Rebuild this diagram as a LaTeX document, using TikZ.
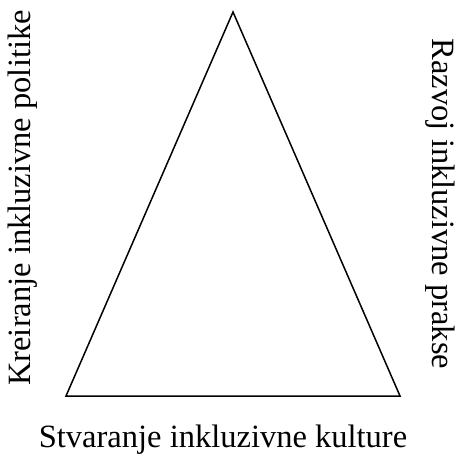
\documentclass[tikz,border=0pt]{standalone}
\usepackage{fontspec}
\setmainfont{Liberation Serif}
\usetikzlibrary{positioning}

\begin{document}
\begin{tikzpicture}[
  x=0.4pt, y=-0.4pt,
  label/.style={font=\fontsize{13}{16}\selectfont, inner sep=0pt},
  edge/.style={draw, line width=0.6pt, line join=miter}
]

\useasboundingbox (0,0) rectangle (456,464);

\coordinate (top) at (233,12);
\coordinate (left) at (66,396);
\coordinate (right) at (400,396);

\draw[edge] (top) -- (left) -- (right) -- cycle;

\node[label, rotate=90] (politike) at (23,198) {Kreiranje inkluzivne politike};
\node[label, rotate=-90] (prakse) at (440,204) {Razvoj inkluzivne prakse};
\node[label] (kulture) at (223,440) {Stvaranje inkluzivne kulture};

\end{tikzpicture}
\end{document}
